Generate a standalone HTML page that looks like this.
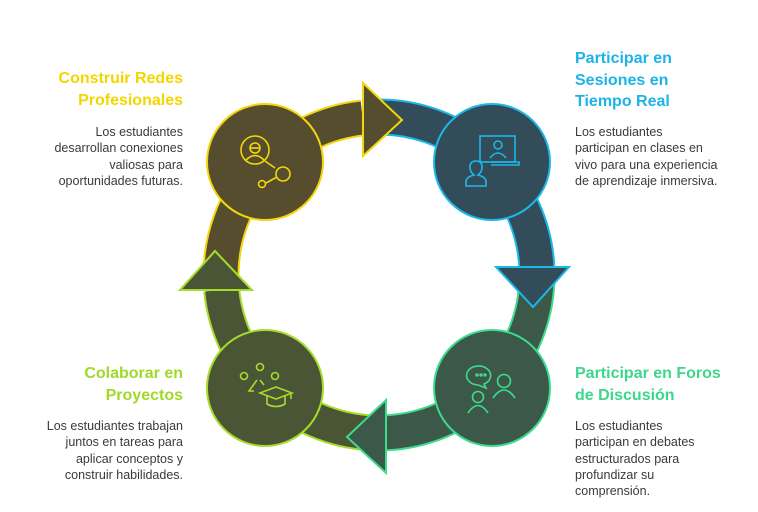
<!DOCTYPE html>
<html><head><meta charset="utf-8"><style>
html,body{margin:0;padding:0;background:#fff;}
body{width:758px;height:512px;position:relative;overflow:hidden;font-family:"Liberation Sans",Arial,sans-serif;}
.t{position:absolute;font-weight:bold;font-size:16px;line-height:21.5px;}
.b{position:absolute;font-size:12.5px;line-height:16.3px;color:#3a3a3a;}
.r{text-align:right;}
</style></head><body>
<svg width="758" height="512" style="position:absolute;left:0;top:0">
<g fill="none" stroke-linecap="butt">
<path d="M221,275 A158,158 0 0 1 362.5,118" stroke="#f3d60c" stroke-width="37"/>
<path d="M221,275 A158,158 0 0 1 362.5,118" stroke="#554d2e" stroke-width="33"/>
<path d="M373.5,117.1 A158,158 0 0 1 536.8,266.7" stroke="#1cb8e8" stroke-width="37"/>
<path d="M373.5,117.1 A158,158 0 0 1 536.8,266.7" stroke="#324c5a" stroke-width="33"/>
<path d="M537,275 A158,158 0 0 1 385.9,432.8" stroke="#3ddc8c" stroke-width="37"/>
<path d="M537,275 A158,158 0 0 1 385.9,432.8" stroke="#3b5848" stroke-width="33"/>
<path d="M379,433 A158,158 0 0 1 221.7,289.9" stroke="#a6dc2a" stroke-width="37"/>
<path d="M379,433 A158,158 0 0 1 221.7,289.9" stroke="#4a5535" stroke-width="33"/>
</g>
<polygon points="363,83 402,120 363,156" fill="#554d2e" stroke="#f3d60c" stroke-width="2"/>
<polygon points="496,267 569,267 533,307" fill="#324c5a" stroke="#1cb8e8" stroke-width="2"/>
<polygon points="386,400 386,473 347,437" fill="#3b5848" stroke="#3ddc8c" stroke-width="2"/>
<polygon points="180,290 252,290 215,251" fill="#4a5535" stroke="#a6dc2a" stroke-width="2"/>
<circle cx="265" cy="162" r="58" fill="#554d2e" stroke="#f3d60c" stroke-width="2"/>
<circle cx="492" cy="162" r="58" fill="#324c5a" stroke="#1cb8e8" stroke-width="2"/>
<circle cx="492" cy="388" r="58" fill="#3b5848" stroke="#3ddc8c" stroke-width="2"/>
<circle cx="265" cy="388" r="58" fill="#4a5535" stroke="#a6dc2a" stroke-width="2"/>
<g fill="none" stroke="#f3d60c" stroke-width="1.6">
<circle cx="255" cy="150" r="14"/><circle cx="255" cy="148" r="5"/><path d="M246,160 q9,-9 18,0"/><path d="M250,148 h10"/>
<path d="M265,161 L275,168"/><circle cx="283" cy="174" r="7"/><path d="M277,177 L266,183"/><circle cx="262" cy="184" r="3.5"/>
</g>
<g fill="none" stroke="#1cb8e8" stroke-width="1.6">
<rect x="480" y="136" width="35" height="26"/><path d="M491,162 h28 v3 h-28"/><circle cx="498" cy="145" r="4"/><path d="M490,158 q8,-10 16,0"/>
<path d="M466,186 v-4 q0,-5 8,-7 q-4,-3 -4,-8 q0,-6 6,-6 q6,0 6,6 q0,5 -4,8 q8,2 8,7 v4 z"/>
</g>
<g fill="none" stroke="#3ddc8c" stroke-width="1.6">
<path d="M484,384 a12,9.5 0 1 0 -6,1 l8,3z"/>
<circle cx="477" cy="375" r="0.9"/><circle cx="481" cy="375" r="0.9"/><circle cx="485" cy="375" r="0.9"/>
<circle cx="504" cy="381" r="6.5"/><path d="M493,398 q11,-16 22,0"/>
<circle cx="478" cy="397" r="5.5"/><path d="M468,413 q10,-15 20,0"/>
</g>
<g fill="none" stroke="#a6dc2a" stroke-width="1.6">
<circle cx="244" cy="376" r="3.5"/><circle cx="260" cy="367" r="3.5"/><circle cx="275" cy="376" r="3.5"/>
<path d="M257,380 l-8,11 h5"/><path d="M260,380 l4,5"/>
<path d="M260,393 l16,-6 l16,6 l-16,6z"/><path d="M267,396 v8 q9,5 18,0 v-8"/><path d="M291,393 v6"/>
</g>
</svg>
<div class="t r" style="right:575px;top:68px;color:#f2d600">Construir Redes<br>Profesionales</div>
<div class="b r" style="right:575px;top:124px">Los estudiantes<br>desarrollan conexiones<br>valiosas para<br>oportunidades futuras.</div>
<div class="t" style="left:575px;top:48px;color:#1ab4e8">Participar en<br>Sesiones en<br>Tiempo Real</div>
<div class="b" style="left:575px;top:124px">Los estudiantes<br>participan en clases en<br>vivo para una experiencia<br>de aprendizaje inmersiva.</div>
<div class="t r" style="right:575px;top:363px;color:#a0d92a">Colaborar en<br>Proyectos</div>
<div class="b r" style="right:575px;top:418px">Los estudiantes trabajan<br>juntos en tareas para<br>aplicar conceptos y<br>construir habilidades.</div>
<div class="t" style="left:575px;top:363px;color:#3dd68c">Participar en Foros<br>de Discusión</div>
<div class="b" style="left:575px;top:418px">Los estudiantes<br>participan en debates<br>estructurados para<br>profundizar su<br>comprensión.</div>
</body></html>
